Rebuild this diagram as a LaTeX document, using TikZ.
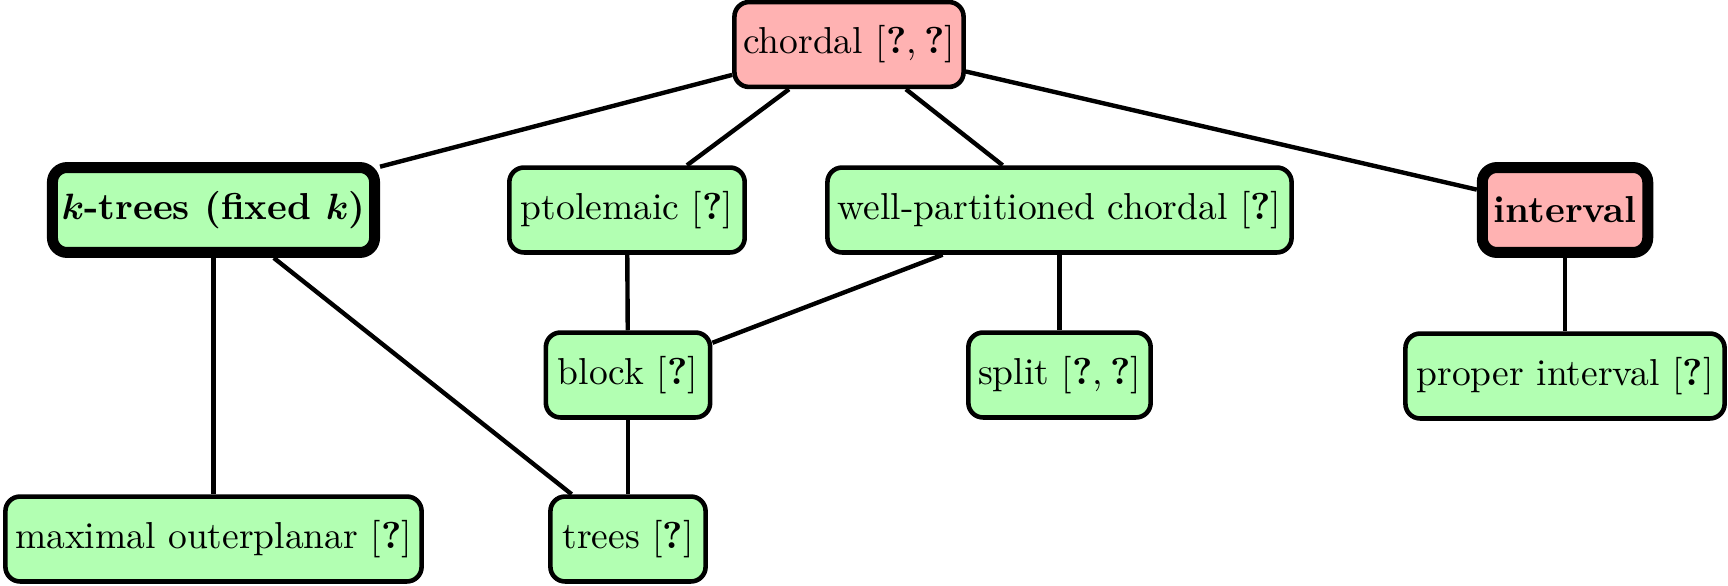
\documentclass[tikz,border=0pt]{standalone}
\usepackage{amsmath}
\usepackage{fontspec}
\begin{document}
\begin{tikzpicture}[x=0.2732pt,y=-0.2732pt,
  box/.style={draw, rounded corners=4pt, line width=1.25pt, fill=green!30,
    minimum height=23.2pt, inner sep=0pt, align=center,
    font=\fontsize{10.25pt}{12pt}\selectfont},
  hard/.style={fill=red!30},
  fat/.style={line width=3pt},
  link/.style={line width=1.2pt}]
\useasboundingbox (0,0) rectangle (1728,585);
\newcommand{\qq}{\textbf{?}}
\newcommand{\sep}{,\kern2pt}
\node[box,hard,minimum width=62.6pt] (chordal) at (849,44.5) {chordal [\qq\sep\qq]};
\node[box,fat,minimum width=88pt] (ktrees) at (213.5,210) {\textbf{\boldmath$k$-trees (fixed $k$)}};
\node[box,minimum width=64.3pt] (ptol) at (627,210) {ptolemaic [\qq]};
\node[box,minimum width=126.8pt] (wp) at (1059.5,210) {well-partitioned chordal [\qq]};
\node[box,hard,fat,minimum width=45.2pt] (interval) at (1565,210) {\textbf{interval}};
\node[box,minimum width=44.9pt] (block) at (628,375) {block [\qq]};
\node[box,minimum width=49.8pt] (split) at (1059.5,375) {split [\qq\sep\qq]};
\node[box,minimum width=87.2pt] (proper) at (1565,376) {proper interval [\qq]};
\node[box,minimum width=113.7pt] (maxout) at (213.5,539) {maximal outerplanar [\qq]};
\node[box,minimum width=42.4pt] (trees) at (628,539) {trees [\qq]};
\draw[link] (chordal) -- (ktrees);
\draw[link] (chordal) -- (ptol);
\draw[link] (chordal) -- (wp);
\draw[link] (chordal) -- (interval);
\draw[link] (ktrees) -- (maxout);
\draw[link] (ktrees) -- (trees);
\draw[link] (ptol) -- (block);
\draw[link] (wp) -- (block);
\draw[link] (wp) -- (split);
\draw[link] (block) -- (trees);
\draw[link] (interval) -- (proper);
\end{tikzpicture}
\end{document}
